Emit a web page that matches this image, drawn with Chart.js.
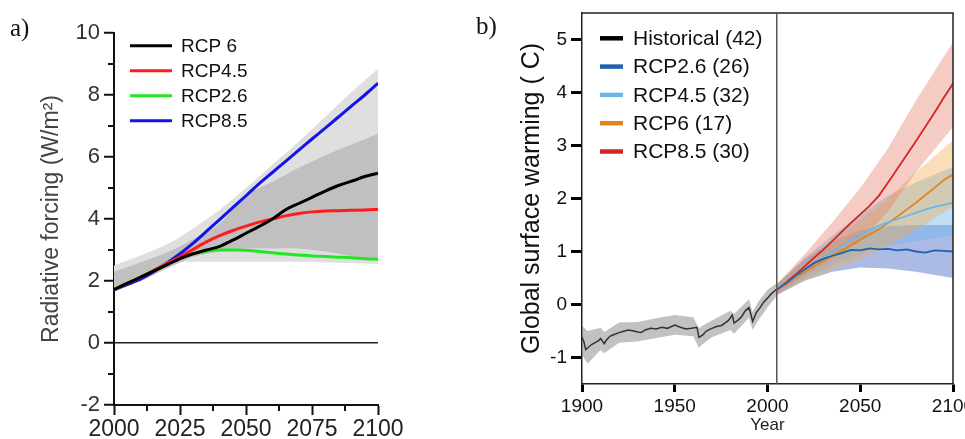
<!DOCTYPE html>
<html lang="en">
<head>
<meta charset="utf-8">
<title>Radiative forcing and global surface warming</title>
<script src="https://cdn.jsdelivr.net/npm/chart.js"></script>
<style>
  body { margin: 0; background: #fff; width: 965px; height: 439px; overflow: hidden; position: relative; }
  .panel { position: absolute; top: 0; height: 439px; }
  #pa { left: 0; width: 430px; }
  #pb { left: 480px; width: 485px; }
  .tag { position: absolute; font-family: "Liberation Serif", "DejaVu Serif", serif; font-size: 25px; color: #111; }
</style>
</head>
<body>
<div class="panel" id="pa"><canvas id="chartA"></canvas></div>
<div class="panel" id="pb"><canvas id="chartB"></canvas></div>
<div class="tag" style="left:10px;top:14px">a)</div>
<div class="tag" style="left:476px;top:12px">b)</div>
<script>
// ---- panel a: radiative forcing ----
const yearsA = [2000,2005,2010,2015,2020,2025,2030,2035,2040,2045,2050,2055,2060,2065,2070,2075,2080,2085,2090,2095,2100];
const rcp6A  = [1.72,1.92,2.12,2.32,2.52,2.72,2.88,3.0,3.12,3.32,3.54,3.76,4.0,4.3,4.5,4.7,4.9,5.08,5.22,5.37,5.48];
const rcp45A = [1.72,1.92,2.12,2.34,2.56,2.78,3.02,3.26,3.46,3.63,3.77,3.9,4.0,4.1,4.18,4.23,4.26,4.27,4.28,4.29,4.31];
const rcp26A = [1.72,1.92,2.12,2.34,2.56,2.75,2.88,2.96,3.0,3.0,2.99,2.95,2.91,2.87,2.84,2.81,2.79,2.77,2.75,2.72,2.7];
const rcp85A = [1.72,1.88,2.06,2.3,2.58,2.88,3.22,3.6,3.98,4.37,4.75,5.14,5.5,5.86,6.22,6.58,6.93,7.29,7.65,8.0,8.38];

const bandYearsA = [2000,2010,2020,2025,2030,2040,2050,2060,2070,2080,2090,2100];
const lightLowA  = [1.8,2.05,2.45,2.6,2.62,2.62,2.62,2.62,2.62,2.6,2.58,2.55];
const lightHighA = [2.5,2.82,3.18,3.42,3.7,4.3,5.0,5.75,6.5,7.3,8.1,8.85];
const darkLowA   = [1.75,2.0,2.4,2.6,2.78,2.95,3.05,3.05,3.05,2.95,2.8,2.65];
const darkHighA  = [2.3,2.6,2.92,3.12,3.35,3.85,4.75,5.2,5.65,6.05,6.4,6.75];

const minorXA = [2012.5,2037.5,2062.5,2087.5];
const minorYA = [-1,1,3,5,7,9];

// ---- panel b: global surface warming ----
const histYears = [1900,1901,1902,1903,1905,1907,1909,1910,1912,1913,1915,1917,1920,1923,1925,1928,1930,1932,1934,1937,1940,1943,1946,1948,1950,1953,1956,1959,1962,1963,1965,1967,1970,1973,1975,1977,1979,1981,1982,1984,1986,1988,1990,1991,1992,1994,1996,1998,2000,2002,2004,2005];
const histMean  = [-0.62,-0.7,-0.85,-0.82,-0.76,-0.72,-0.68,-0.64,-0.74,-0.68,-0.6,-0.57,-0.53,-0.5,-0.48,-0.5,-0.52,-0.53,-0.48,-0.45,-0.46,-0.43,-0.45,-0.42,-0.39,-0.43,-0.46,-0.45,-0.43,-0.62,-0.58,-0.5,-0.45,-0.41,-0.4,-0.35,-0.3,-0.2,-0.35,-0.3,-0.23,-0.12,-0.06,-0.18,-0.32,-0.15,-0.06,0.05,0.12,0.2,0.26,0.29];
const histBandYears = [1900,1903,1910,1912,1920,1930,1940,1950,1960,1963,1965,1970,1980,1982,1990,1992,1995,2000,2005];
const histLow  = [-0.95,-1.12,-0.86,-0.92,-0.72,-0.7,-0.63,-0.57,-0.6,-0.82,-0.75,-0.62,-0.48,-0.55,-0.25,-0.48,-0.3,-0.05,0.16];
const histHigh = [-0.4,-0.5,-0.44,-0.52,-0.34,-0.33,-0.26,-0.2,-0.24,-0.45,-0.4,-0.3,-0.12,-0.18,0.1,-0.14,0.05,0.28,0.4];

const futYears = [2005,2010,2015,2020,2025,2030,2035,2040,2045,2050,2055,2060,2065,2070,2075,2080,2085,2090,2095,2100];
const rcp26B = [0.28,0.4,0.54,0.66,0.78,0.86,0.92,0.97,1.03,1.02,1.06,1.04,1.05,1.02,1.04,1.0,0.98,1.02,1.01,1.0];
const rcp45B = [0.28,0.41,0.53,0.66,0.78,0.89,1.0,1.1,1.21,1.31,1.41,1.49,1.55,1.61,1.67,1.73,1.79,1.84,1.88,1.92];
const rcp60B = [0.28,0.38,0.5,0.61,0.72,0.82,0.92,1.02,1.12,1.22,1.32,1.42,1.54,1.66,1.79,1.92,2.06,2.2,2.35,2.45];
const rcp85B = [0.28,0.42,0.56,0.72,0.88,1.03,1.2,1.37,1.54,1.7,1.86,2.05,2.3,2.56,2.82,3.08,3.35,3.62,3.9,4.17];

const bandYearsB = [2005,2020,2035,2050,2065,2080,2100];
const rcp26Low  = [0.18,0.45,0.62,0.7,0.68,0.62,0.5];
const rcp26High = [0.38,0.85,1.2,1.4,1.48,1.5,1.5];
const rcp45Low  = [0.18,0.48,0.75,0.95,1.1,1.2,1.3];
const rcp45High = [0.38,0.88,1.3,1.7,2.05,2.3,2.6];
const rcp60Low  = [0.18,0.45,0.65,0.85,1.1,1.4,1.85];
const rcp60High = [0.38,0.8,1.2,1.6,2.0,2.5,3.1];
const rcp85Low  = [0.18,0.55,0.85,1.2,1.75,2.5,3.35];
const rcp85High = [0.38,0.95,1.55,2.2,2.95,3.85,4.95];
const yTicksB = [-1,0,1,2,3,4,5];
const dividerYear = 2005;

Chart.defaults.font.family = '"Liberation Sans", Arial, sans-serif';
Chart.defaults.animation = false;

const pts = (xs, ys) => xs.map((x, i) => ({x: x, y: ys[i]}));
const plain = v => String(v);

function line(label, xs, ys, color, width, tension) {
  return { label: label, data: pts(xs, ys), borderColor: color, borderWidth: width,
    pointRadius: 0, tension: tension, cubicInterpolationMode: tension ? 'monotone' : 'default', fill: false, order: 0 };
}
function bandPair(xs, lo, hi, color, order, tension) {
  return [
    { label: '', data: pts(xs, lo), borderWidth: 0, pointRadius: 0, fill: false, order: order, tension: tension || 0 },
    { label: '', data: pts(xs, hi), borderWidth: 0, pointRadius: 0, fill: '-1', backgroundColor: color, order: order, tension: tension || 0 }
  ];
}

// legend drawn inside the plot, short coloured line + label
function lineLegend(o) {
  return {
    id: 'lineLegend',
    afterDraw(chart) {
      const {ctx, chartArea} = chart;
      const items = chart.data.datasets.filter(d => d.label);
      ctx.save();
      ctx.font = o.font;
      ctx.textBaseline = 'middle';
      ctx.fillStyle = '#111';
      items.forEach((d, i) => {
        const x = chartArea.left + o.left;
        const y = chartArea.top + o.top + i * o.rowH;
        ctx.strokeStyle = d.legendColor || d.borderColor;
        ctx.lineWidth = o.lineW;
        ctx.beginPath();
        ctx.moveTo(x, y);
        ctx.lineTo(x + o.len, y);
        ctx.stroke();
        ctx.fillText(d.label, x + o.len + o.gap, y + 1);
      });
      ctx.restore();
    }
  };
}

const minorTicksA = {
  id: 'minorTicksA',
  afterDraw(chart) {
    const {ctx, chartArea, scales: {x, y}} = chart;
    ctx.save();
    ctx.strokeStyle = '#111';
    ctx.lineWidth = 2;
    ctx.beginPath();
    minorXA.forEach(v => { const px = x.getPixelForValue(v); ctx.moveTo(px, chartArea.bottom); ctx.lineTo(px, chartArea.bottom + 6); });
    minorYA.forEach(v => { const py = y.getPixelForValue(v); ctx.moveTo(chartArea.left, py); ctx.lineTo(chartArea.left - 6, py); });
    ctx.stroke();
    ctx.restore();
  }
};

const frameB = {
  id: 'frameB',
  afterDraw(chart) {
    const {ctx, chartArea: {left, right, top, bottom}, scales: {x}} = chart;
    ctx.save();
    ctx.strokeStyle = '#222';
    ctx.lineWidth = 1.5;
    ctx.beginPath();
    ctx.moveTo(left, top); ctx.lineTo(right, top); ctx.lineTo(right, bottom);
    ctx.stroke();
    const px = x.getPixelForValue(dividerYear);
    ctx.strokeStyle = '#555';
    ctx.beginPath();
    ctx.moveTo(px, top); ctx.lineTo(px, bottom);
    ctx.stroke();
    ctx.restore();
  }
};

new Chart(document.getElementById('chartA'), {
  type: 'line',
  data: {
    datasets: [
      line('RCP 6', yearsA, rcp6A, '#000000', 3, 0.4),
      line('RCP4.5', yearsA, rcp45A, '#ff1c1c', 3, 0.4),
      line('RCP2.6', yearsA, rcp26A, '#22e622', 3, 0.4),
      line('RCP8.5', yearsA, rcp85A, '#1414e6', 3, 0.4),
      ...bandPair(bandYearsA, darkLowA, darkHighA, '#c0c0c0', 1, 0.3),
      ...bandPair(bandYearsA, lightLowA, lightHighA, '#dfdfdf', 2, 0.3)
    ]
  },
  options: {
    responsive: true,
    maintainAspectRatio: false,
    layout: { padding: { left: 38, top: 33, right: 52, bottom: 0 } },
    plugins: { legend: { display: false }, tooltip: { enabled: false } },
    scales: {
      x: {
        type: 'linear', min: 2000, max: 2100,
        ticks: { stepSize: 25, font: { size: 23 }, color: '#222', padding: 1, maxRotation: 0, autoSkip: false, callback: plain },
        grid: { drawOnChartArea: false, tickLength: 10, tickWidth: 2, tickColor: '#111' },
        border: { color: '#111', width: 2 },
        afterFit(s) { s.height = 34; s.paddingLeft = 0; s.paddingRight = 0; }
      },
      y: {
        min: -2, max: 10,
        ticks: { stepSize: 2, font: { size: 22 }, color: '#333', padding: 4, callback: plain },
        grid: {
          color: c => (c.tick && c.tick.value === 0) ? '#222' : 'rgba(0,0,0,0)',
          lineWidth: 1.5, tickLength: 10, tickWidth: 2, tickColor: '#111'
        },
        border: { color: '#111', width: 2 },
        title: { display: true, text: 'Radiative forcing (W/m²)', font: { size: 23 }, color: '#444', padding: 0 },
        afterFit(s) { s.width = 76; s.paddingTop = 0; s.paddingBottom = 0; }
      }
    }
  },
  plugins: [minorTicksA, lineLegend({ font: '19px "Liberation Sans", Arial, sans-serif', left: 16, top: 12.7, rowH: 25, len: 42, lineW: 3, gap: 9 })]
});

const histLine = line('Historical (42)', histYears, histMean, '#333333', 1.5, 0);
histLine.legendColor = '#000000';

new Chart(document.getElementById('chartB'), {
  type: 'line',
  data: {
    datasets: [
      histLine,
      line('RCP2.6 (26)', futYears, rcp26B, '#1f63ad', 1.8, 0),
      line('RCP4.5 (32)', futYears, rcp45B, '#6bb8e6', 1.8, 0),
      line('RCP6 (17)', futYears, rcp60B, '#e0861c', 1.8, 0),
      line('RCP8.5 (30)', futYears, rcp85B, '#d32626', 1.8, 0),
      ...bandPair(histBandYears, histLow, histHigh, 'rgba(110,110,110,0.42)', 1),
      ...bandPair(bandYearsB, rcp26Low, rcp26High, 'rgba(70,105,200,0.45)', 4),
      ...bandPair(bandYearsB, rcp45Low, rcp45High, 'rgba(110,185,240,0.45)', 3),
      ...bandPair(bandYearsB, rcp60Low, rcp60High, 'rgba(242,172,80,0.4)', 2),
      ...bandPair(bandYearsB, rcp85Low, rcp85High, 'rgba(228,128,105,0.4)', 1)
    ]
  },
  options: {
    responsive: true,
    maintainAspectRatio: false,
    layout: { padding: { left: 37, top: 13, right: 12, bottom: 3 } },
    plugins: { legend: { display: false }, tooltip: { enabled: false } },
    scales: {
      x: {
        type: 'linear', min: 1900, max: 2100,
        ticks: { stepSize: 50, font: { size: 19 }, color: '#111', padding: 3, maxRotation: 0, autoSkip: false, callback: plain },
        grid: { drawOnChartArea: false, tickLength: 8, tickWidth: 3, tickColor: '#000' },
        border: { color: '#222', width: 1.5 },
        title: { display: true, text: 'Year', font: { size: 17 }, color: '#222', padding: 0 },
        afterFit(s) { s.height = 52; s.paddingLeft = 0; s.paddingRight = 0; }
      },
      y: {
        min: -1.5, max: 5.5,
        afterBuildTicks(s) { s.ticks = yTicksB.map(v => ({ value: v })); },
        ticks: { font: { size: 19 }, color: '#111', padding: 4, callback: plain },
        grid: { drawOnChartArea: false, tickLength: 11, tickWidth: 3, tickColor: '#000' },
        border: { color: '#222', width: 1.5 },
        title: { display: true, text: 'Global surface warming ( C)', font: { size: 25 }, color: '#111', padding: 0 },
        afterFit(s) { s.width = 65; s.paddingTop = 0; s.paddingBottom = 0; }
      }
    }
  },
  plugins: [frameB, lineLegend({ font: '21px "Liberation Sans", Arial, sans-serif', left: 18, top: 25.3, rowH: 28.3, len: 23, lineW: 4.5, gap: 10 })]
});
</script>
</body>
</html>
